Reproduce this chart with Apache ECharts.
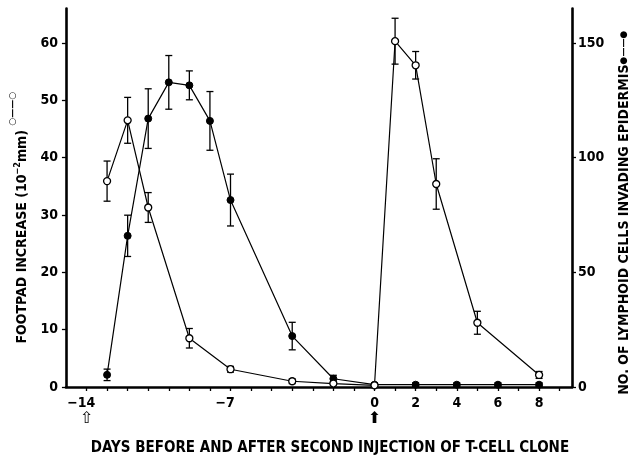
<!DOCTYPE html>
<html><head><meta charset="utf-8">
<script src="https://cdn.jsdelivr.net/npm/echarts@6/dist/echarts.min.js"></script>
<style>html,body{margin:0;padding:0;background:#fff}#c{width:639px;height:461px}</style>
</head><body><div id="c"></div>
<script>
// Footpad increase (open circles, left axis, 10^-2 mm)
var footDays = [-13, -12, -11, -9, -7, -4, -2, 0, 1, 2, 3, 5, 8];
var footVals = [35.9, 46.5, 31.3, 8.5, 3.1, 1.0, 0.6, 0.3, 60.3, 56.1, 35.4, 11.2, 2.1];
var footErr  = [3.5, 4.0, 2.6, 1.7, 0.5, 0.4, 0.2, 0.2, 4.0, 2.4, 4.4, 2.0, 0.6];
// Lymphoid cells invading epidermis (filled circles, right axis)
var lymphDays = [-13, -12, -11, -10, -9, -8, -7, -4, -2, 0, 2, 4, 6, 8];
var lymphVals = [5.3, 65.9, 117, 132.8, 131.5, 116, 81.5, 22.2, 3.6, 1, 1, 1, 1, 1];
var lymphErr  = [2.5, 9, 13, 11.7, 6.3, 12.8, 11.3, 6, 1.5, 0.8, 0.8, 0.8, 0.8, 0.8];
// Axis ticks / labels
var xTickDays = [-14,-13,-12,-11,-10,-9,-8,-7,-6,-5,-4,-3,-2,-1,0,1,2,3,4,5,6,7,8,9];
var xLabelDays = [-14, -7, 0, 2, 4, 6, 8];
var leftTicks = [0, 10, 20, 30, 40, 50, 60];
var rightTicks = [0, 50, 100, 150];

var FONT = "'DejaVu Sans Condensed', 'Liberation Sans Narrow', 'DejaVu Sans', sans-serif";

function pairs(xs, ys) { return xs.map(function (x, i) { return [x, ys[i]]; }); }
function errData(xs, ys, es) { return xs.map(function (x, i) { return [x, ys[i] - es[i], ys[i] + es[i]]; }); }

function errRender(params, api) {
  var lo = api.coord([api.value(0), api.value(1)]);
  var hi = api.coord([api.value(0), api.value(2)]);
  var w = 3.5;
  var st = { stroke: '#000', lineWidth: 1.3 };
  return { type: 'group', children: [
    { type: 'line', shape: { x1: lo[0], y1: lo[1], x2: hi[0], y2: hi[1] }, style: st },
    { type: 'line', shape: { x1: lo[0] - w, y1: lo[1], x2: lo[0] + w, y2: lo[1] }, style: st },
    { type: 'line', shape: { x1: hi[0] - w, y1: hi[1], x2: hi[0] + w, y2: hi[1] }, style: st }
  ]};
}

function xFmt(v) {
  if (v === -14) return '{m|−}{n|14}{h|−}\n{ao|⇧}';
  if (v === -7) return '{m|−}{n|7}{h|−}';
  if (v === 0) return '{n|0}\n{af|⬆}';
  return '{n|' + v + '}';
}

var chart = echarts.init(document.getElementById('c'), null, { renderer: 'canvas' });
var axisLineStyle = { color: '#000', width: 2.6 };
chart.setOption({
  animation: false,
  backgroundColor: '#fff',
  grid: { left: 62, right: 59, top: 8.5, bottom: 71, containLabel: false },
  xAxis: {
    type: 'value', min: -15, max: 9.6,
    axisLine: { show: true, onZero: false, lineStyle: axisLineStyle },
    axisTick: { show: true, length: 4, inside: false, customValues: xTickDays, lineStyle: { color: '#000', width: 1.3 } },
    axisLabel: {
      customValues: xLabelDays, formatter: xFmt, margin: 8,
      rich: {
        n: { fontFamily: FONT, fontWeight: 'bold', fontSize: 14, color: '#000', lineHeight: 16 },
        m: { fontFamily: FONT, fontWeight: 'bold', fontSize: 14, color: '#000', lineHeight: 16 },
        h: { fontFamily: FONT, fontWeight: 'bold', fontSize: 14, color: 'rgba(0,0,0,0)', lineHeight: 16 },
        ao: { fontFamily: 'DejaVu Sans', fontSize: 16, color: '#000', lineHeight: 16 },
        af: { fontFamily: 'DejaVu Sans', fontSize: 16, color: '#000', lineHeight: 16 }
      }
    },
    splitLine: { show: false },
    name: 'DAYS BEFORE AND AFTER SECOND INJECTION OF T-CELL CLONE',
    nameLocation: 'middle', nameGap: 54,
    nameTextStyle: { fontFamily: FONT, fontWeight: 'bold', fontSize: 15, color: '#000', padding: [0, 0, 0, 22] }
  },
  yAxis: [{
    type: 'value', min: 0, max: 66, position: 'left',
    axisLine: { show: true, onZero: false, lineStyle: axisLineStyle },
    axisTick: { show: true, length: 4, customValues: leftTicks, lineStyle: { color: '#000', width: 1.3 } },
    axisLabel: { customValues: leftTicks, margin: 8, fontFamily: FONT, fontWeight: 'bold', fontSize: 14, color: '#000' },
    splitLine: { show: false },
    name: 'FOOTPAD INCREASE (10{sup|−2}mm) {sym|○——○}',
    nameLocation: 'middle', nameRotate: 90, nameGap: 22,
    nameTextStyle: {
      fontFamily: FONT, fontWeight: 'bold', fontSize: 14, color: '#000', padding: [0, 40, 0, 0],
      rich: {
        sup: { fontFamily: FONT, fontWeight: 'bold', fontSize: 9, color: '#000', padding: [0, 0, 9, 0] },
        sym: { fontFamily: 'DejaVu Sans', fontSize: 9, color: '#000', padding: [0, 0, 20, 0] }
      }
    }
  }, {
    type: 'value', min: 0, max: 165, position: 'right',
    axisLine: { show: true, onZero: false, lineStyle: axisLineStyle },
    axisTick: { show: true, length: 4, customValues: rightTicks, lineStyle: { color: '#000', width: 1.3 } },
    axisLabel: { customValues: rightTicks, margin: 6, fontFamily: FONT, fontWeight: 'bold', fontSize: 14, color: '#000' },
    splitLine: { show: false },
    name: 'NO. OF LYMPHOID CELLS INVADING EPIDERMIS{sym|●——●}',
    nameLocation: 'middle', nameRotate: 90, nameGap: 45,
    nameTextStyle: {
      fontFamily: FONT, fontWeight: 'bold', fontSize: 14, color: '#000', padding: [0, 30, 0, 0],
      rich: { sym: { fontFamily: 'DejaVu Sans', fontSize: 9, color: '#000' } }
    }
  }],
  series: [
    { type: 'custom', xAxisIndex: 0, yAxisIndex: 0, renderItem: errRender, data: errData(footDays, footVals, footErr), z: 2 },
    { type: 'custom', xAxisIndex: 0, yAxisIndex: 1, renderItem: errRender, data: errData(lymphDays, lymphVals, lymphErr), z: 2 },
    { type: 'line', yAxisIndex: 1, data: pairs(lymphDays, lymphVals), symbol: 'circle', symbolSize: 7,
      lineStyle: { color: '#000', width: 1.2 }, itemStyle: { color: '#000', borderColor: '#000', borderWidth: 1 }, z: 3 },
    { type: 'line', yAxisIndex: 0, data: pairs(footDays, footVals), symbol: 'circle', symbolSize: 7,
      lineStyle: { color: '#000', width: 1.2 }, itemStyle: { color: '#fff', borderColor: '#000', borderWidth: 1.3 }, z: 4 }
  ]
});
</script></body></html>
